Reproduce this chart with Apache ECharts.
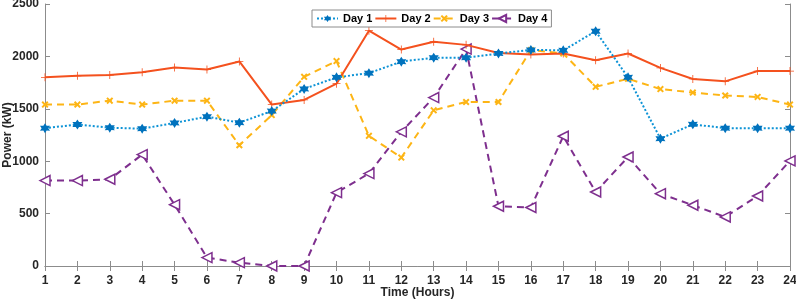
<!DOCTYPE html>
<html>
<head>
<meta charset="utf-8">
<script src="https://cdn.jsdelivr.net/npm/echarts@6/dist/echarts.min.js"></script>
<style>
  html, body { margin: 0; padding: 0; background: #fff; }
  #chart { width: 796px; height: 300px; }
</style>
</head>
<body>
<div id="chart"></div>
<script>
const hours = ['1', '2', '3', '4', '5', '6', '7', '8', '9', '10', '11', '12',
  '13', '14', '15', '16', '17', '18', '19', '20', '21', '22', '23', '24'];

const day1 = [1315, 1350, 1320, 1310, 1365, 1425, 1368, 1478, 1690, 1800, 1840, 1950,
  1988, 1988, 2028, 2062, 2058, 2240, 1800, 1215, 1352, 1315, 1315, 1315];
const day2 = [1800, 1815, 1822, 1848, 1893, 1875, 1952, 1540, 1585, 1740, 2245, 2065,
  2140, 2110, 2033, 2018, 2028, 1963, 2028, 1890, 1785, 1762, 1860, 1860];
const day3 = [1540, 1540, 1578, 1540, 1578, 1578, 1152, 1440, 1805, 1955, 1242, 1035,
  1485, 1565, 1565, 2060, 2028, 1710, 1786, 1688, 1655, 1627, 1613, 1540];
const day4 = [815, 815, 828, 1063, 585, 80, 32, 0, 0, 700, 882, 1280,
  1607, 2070, 570, 558, 1238, 706, 1040, 690, 580, 468, 668, 1003];

const yTicks = [0, 500, 1000, 1500, 2000, 2500];

const axisColor = '#8c8c8c';
const labelStyle = { color: '#262626', fontWeight: 'bold', fontSize: 12, fontFamily: 'Liberation Sans' };

const star6 = 'path://M5,0 L6.4,2.6 L9.3,2.5 L7.9,5 L9.3,7.5 L6.4,7.4 L5,10 L3.6,7.4 L0.7,7.5 L2.1,5 L0.7,2.5 L3.6,2.6 Z';
const plus = 'path://M4.5,0 L5.5,0 L5.5,4.5 L10,4.5 L10,5.5 L5.5,5.5 L5.5,10 L4.5,10 L4.5,5.5 L0,5.5 L0,4.5 L4.5,4.5 Z';
const cross = 'path://M0,2 L2,0 L5,3 L8,0 L10,2 L7,5 L10,8 L8,10 L5,7 L2,10 L0,8 L3,5 Z';
const triLeft = 'path://M0,5 L10,0 L10,10 Z';

const chart = echarts.init(document.getElementById('chart'));

const option = {
  animation: false,
  textStyle: { fontFamily: 'Liberation Sans' },
  grid: { left: 45, right: 6, top: 4, bottom: 34, containLabel: false, outerBoundsMode: 'none' },
  legend: {
    top: 10,
    left: 312,
    itemWidth: 21,
    itemHeight: 9,
    itemGap: 2,
    padding: [3, 4, 3, 4],
    borderColor: '#8c8c8c',
    borderWidth: 1,
    backgroundColor: '#fff',
    textStyle: { color: '#000', fontWeight: 'bold', fontSize: 11 },
    data: ['Day 1', 'Day 2', 'Day 3', 'Day 4']
  },
  xAxis: [
    {
      type: 'category',
      data: hours,
      boundaryGap: false,
      name: 'Time (Hours)',
      nameLocation: 'middle',
      nameGap: 21,
      nameMoveOverlap: false,
      nameTextStyle: labelStyle,
      axisLine: { lineStyle: { color: axisColor } },
      axisTick: { inside: true, length: 5, lineStyle: { color: axisColor } },
      axisLabel: Object.assign({ margin: 9, interval: 0 }, labelStyle),
      splitLine: { show: false }
    },
    {
      type: 'category',
      data: hours,
      boundaryGap: false,
      position: 'top',
      axisLine: { lineStyle: { color: axisColor } },
      axisTick: { inside: true, length: 5, lineStyle: { color: axisColor } },
      axisLabel: { show: false },
      splitLine: { show: false }
    }
  ],
  yAxis: [
    {
      type: 'value',
      min: yTicks[0],
      max: yTicks[yTicks.length - 1],
      interval: 500,
      name: 'Power (kW)',
      nameLocation: 'middle',
      nameGap: 31,
      nameMoveOverlap: false,
      nameTextStyle: labelStyle,
      axisLine: { show: true, lineStyle: { color: axisColor } },
      axisTick: { show: true, inside: true, length: 5, lineStyle: { color: axisColor } },
      axisLabel: Object.assign({ margin: 6, formatter: v => String(v) }, labelStyle),
      splitLine: { show: false }
    },
    {
      type: 'value',
      min: yTicks[0],
      max: yTicks[yTicks.length - 1],
      interval: 500,
      position: 'right',
      axisLine: { show: true, lineStyle: { color: axisColor } },
      axisTick: { show: true, inside: true, length: 5, lineStyle: { color: axisColor } },
      axisLabel: { show: false },
      splitLine: { show: false }
    }
  ],
  series: [
    {
      name: 'Day 1',
      type: 'line',
      data: day1,
      symbol: star6,
      symbolSize: 10,
      itemStyle: { color: '#0072bd' },
      lineStyle: { color: '#0d93d6', width: 2, type: [2, 2] },
      z: 4
    },
    {
      name: 'Day 2',
      type: 'line',
      data: day2,
      symbol: plus,
      symbolSize: 8,
      itemStyle: { color: '#f4511e' },
      lineStyle: { color: '#f4511e', width: 2 },
      z: 3
    },
    {
      name: 'Day 3',
      type: 'line',
      data: day3,
      symbol: cross,
      symbolSize: 7,
      itemStyle: { color: '#fdb515' },
      lineStyle: { color: '#fdb515', width: 2, type: [7, 5] },
      z: 2
    },
    {
      name: 'Day 4',
      type: 'line',
      data: day4,
      symbol: triLeft,
      symbolSize: 10,
      itemStyle: { color: '#fff', borderColor: '#7e2f8e', borderWidth: 1.5 },
      lineStyle: { color: '#7e2f8e', width: 2, type: [7, 5] },
      z: 1
    }
  ]
};

chart.setOption(option);
</script>
</body>
</html>
